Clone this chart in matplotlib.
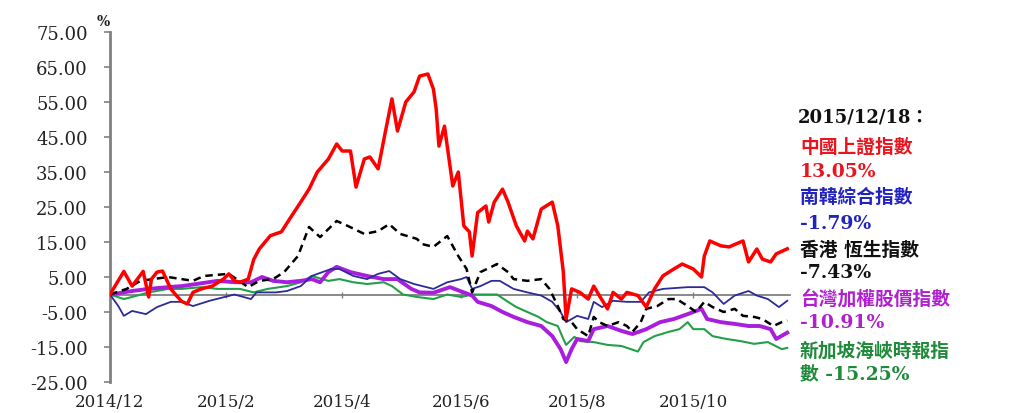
import matplotlib
matplotlib.use("Agg")
import matplotlib.pyplot as plt

# ---- data (trading-day index, % change since 2014/12) ----
china_x = [0,5,8,12,14,15,17,19,22,24,26,28,30,33,37,41,43,45,47,50,52,54,58,62,65,69,72,75,79,82,
           84,87,89,92,94,97,100,102,104,107,110,112,115,117,118,119,121,124,126,128,130,131,133,136,137,139,142,144,147,150,
           151,153,156,160,162,164,165,167,170,173,175,177,180,182,185,187,191,194,197,200,204,207,211,214,215,217,221,224,229,231,
           234,236,239,241,245]
china_y = [0,6.6,2.4,6.6,-0.7,4.4,6.4,6.7,1.6,-0.3,-2,-2.7,0.6,1.6,2.4,4.4,5.9,3.9,3.5,4.4,
           10,13,16.8,17.9,21.6,26.4,30.1,35,38.7,43,41,41,30.7,38.7,39.3,35.9,48,55.9,46.7,55,
           57.9,62.4,63,58.7,53,42.4,48.1,31,35,19.6,17.9,11,23.4,25.3,20.7,26.4,30.1,26.4,19.6,15.3,
           18.1,15.9,24.4,26.4,19.6,6.4,-7,1.6,0.6,-1.3,2.4,-0.3,-4.1,0.6,-1.3,0.6,-0.3,-3.6,1.6,5.3,
           7.3,8.7,7.3,5,11,15.3,13.9,13.6,15.3,9.3,13,10.1,9.3,11.6,13.05]

korea_x = [0,3,5,8,13,17,22,26,30,36,45,51,53,60,64,69,73,80,83,88,93,97,101,105,110,117,122,127,129,131,
           134,138,141,146,151,156,160,163,165,169,173,175,178,182,187,192,195,200,209,215,218,222,226,231,234,238,242,245]
korea_y = [0,-3.3,-6.1,-4.7,-5.6,-3.6,-2.1,-2.1,-3.3,-1.8,0,-1.3,0.6,0.6,1,2.4,5.3,7.3,7.3,5.3,
           4.4,5.9,6.7,4.4,3,1.6,3.5,4.4,5,1.6,2.4,3.9,3.9,1.6,0.6,-0.3,-2.1,-5,-7.9,-6.1,
           -7,-2.1,-3.6,-1.8,-2.1,-2.1,0.6,1.6,2.1,2.1,0.6,-2.7,-0.3,1,-0.3,-1.3,-3.6,-1.79]

hk_x = [0,6,11,21,30,34,43,50,54,59,63,68,72,76,79,82,86,92,97,101,105,111,113,117,122,126,129,131,134,138,
        140,144,146,151,156,159,162,164,167,169,173,175,177,180,184,187,189,192,194,198,202,205,209,212,215,218,222,226,229,233,
        236,240,243,245]
hk_y = [0,1.6,3.9,5,3.9,5.3,5.9,2.1,3.9,4.4,6.4,11,19.3,16.4,18.7,21,19.6,17.3,18.1,20.1,
        17.3,15.9,14.4,13.6,16.7,11,7.3,0.6,6.4,7.9,8.7,6.4,4.4,3.9,4.4,1.6,-3.3,-7,-7.9,-9.9,
        -11.9,-6.4,-7.9,-9,-7.9,-9,-10.7,-7.9,-4.1,-3.3,-1.3,-1.3,-3.3,-5,-2.1,-3.6,-5,-4.1,-6.1,-6.4,
        -7,-9,-7.9,-7.43]

taiwan_x = [0,8,14,21,26,33,39,45,51,55,59,64,69,73,76,79,82,87,93,99,104,109,112,117,123,131,133,138,142,146,
            151,156,160,163,165,167,169,173,175,180,185,189,194,199,204,209,214,216,221,226,231,235,239,241,245]
taiwan_y = [0,1,1.6,2.1,2.4,3.2,3.9,3.5,3.5,5,3.9,3.5,3.9,4.4,3.5,6.4,7.9,6.4,5.3,4.4,
            4.4,1.6,0.6,0.5,2.1,-0.3,-2.1,-3.3,-5,-6.4,-7.9,-9,-11.9,-15.6,-19.3,-15.6,-12.7,-13.3,-9.9,-9,
            -10.4,-11.3,-9.9,-7.9,-7,-5.6,-4.1,-7,-7.9,-8.4,-9,-9,-9.9,-12.7,-10.91]

singapore_x = [0,5,8,14,21,26,33,39,47,52,57,64,69,73,79,83,88,93,99,102,106,111,117,122,127,131,140,144,147,151,
               155,158,162,164,165,168,170,175,180,185,191,193,197,202,206,209,211,215,218,223,228,233,238,243,245]
singapore_y = [0,-1.3,-0.7,0.6,1.6,1.6,2.1,1.6,1.6,0.6,1.6,2.4,3.5,5.3,3.9,4.4,3.5,3,3.5,2.4,
               0,-0.7,-1.3,0,-0.7,0,0,-2.1,-3.6,-5,-6.4,-7.9,-9,-12.7,-14.4,-12.1,-13.3,-13.6,-14.4,-14.7,
               -16.3,-13.6,-11.9,-10.7,-9.9,-7.9,-9.9,-9.9,-11.9,-12.7,-13.3,-14.1,-13.6,-15.6,-15.25]

tick_pos = [0, 42, 84, 127, 169, 211]
tick_labels = ["2014/12", "2015/2", "2015/4", "2015/6", "2015/8", "2015/10"]
y_ticks = [75, 65, 55, 45, 35, 25, 15, 5, -5, -15, -25]

legend_title = "2015/12/18："
legend_lines = [
    ("中國上證指數", "#E8141E"), ("13.05%", "#E8141E"),
    ("南韓綜合指數", "#2222C0"), ("-1.79%", "#2222C0"),
    ("香港 恆生指數", "#111111"), ("-7.43%", "#111111"),
    ("台灣加權股價指數", "#B020D0"), ("-10.91%", "#B020D0"),
    ("新加坡海峽時報指", "#1E8A3A"), ("數 -15.25%", "#1E8A3A"),
]

W, H = 1018, 414
fig = plt.figure(figsize=(W / 100, H / 100), dpi=100)
ax = fig.add_axes([110 / W, 1 - 383 / H, (790 - 110) / W, 350 / H])

ax.plot(singapore_x, singapore_y, color="#22A048", lw=1.5, zorder=3)
ax.plot(taiwan_x, taiwan_y, color="#A81EDC", lw=2.8, zorder=3)
ax.plot(korea_x, korea_y, color="#2B2B99", lw=1.3, zorder=3)
ax.plot(hk_x, hk_y, color="black", lw=1.8, ls=(0, (3, 2)), zorder=3)
ax.plot(china_x, china_y, color="#FF0000", lw=2.5, zorder=4)

ax.set_xlim(0, 246)
ax.set_ylim(-25, 75)

for s in ["top", "right"]:
    ax.spines[s].set_visible(False)
ax.spines["left"].set_color("#808080")
ax.spines["left"].set_linewidth(2.0)
ax.spines["bottom"].set_position(("data", 0))
ax.spines["bottom"].set_color("#808080")
ax.spines["bottom"].set_linewidth(1.3)

serif = ["DejaVu Serif"]
ax.set_yticks(y_ticks)
ax.set_yticklabels([f"{v:.2f}" for v in y_ticks], fontfamily=serif, fontsize=13, color="#222222")
ax.tick_params(axis="y", direction="out", length=4, width=1.2, color="#808080", pad=12)

ax.set_xticks(tick_pos)
ax.tick_params(axis="x", direction="inout", length=4, width=1, color="#808080", labelbottom=False)

sec = ax.secondary_xaxis("bottom")
sec.set_xticks(tick_pos)
sec.set_xticklabels(tick_labels, fontfamily=serif, fontsize=12, color="#222222")
sec.spines["bottom"].set_visible(False)
sec.tick_params(length=0, pad=8)

fig.text(103 / W, 1 - 22 / H, "%", fontfamily=serif, fontsize=10, fontweight="bold",
         ha="center", va="center", color="#222222")

fam = ["DejaVu Serif", "Noto Sans CJK TC"]
fig.text(798 / W, 1 - 118 / H, legend_title, fontfamily=fam, fontsize=13, fontweight="bold",
         ha="left", va="center", color="#111111")
ys = [148, 172, 198, 224, 251, 273, 300, 323, 351, 374]
for (txt, col), yy in zip(legend_lines, ys):
    fig.text(800 / W, 1 - yy / H, txt, fontfamily=fam, fontsize=13.5, fontweight="bold",
             ha="left", va="center", color=col)

fig.savefig("out.png", dpi=100)
